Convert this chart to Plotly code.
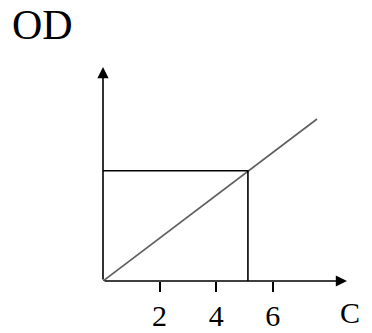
import plotly.graph_objects as go

# Data
conc = [0, 7.56]          # concentration (C) along standard line
od = [0, 0.757]           # OD values along standard line
sample_c = 5.12           # sample concentration read-off
sample_od = 0.515         # sample OD
tick_vals = [2, 4, 6]
tick_text = ["2", "4", "6"]

x_max = 8.62
y_max = 1.0

fig = go.Figure()

# standard curve
fig.add_trace(go.Scatter(x=conc, y=od, mode="lines",
                         line=dict(color="#606060", width=1.7),
                         hoverinfo="skip", showlegend=False))
# read-off lines
fig.add_trace(go.Scatter(x=[0, sample_c, sample_c], y=[sample_od, sample_od, 0],
                         mode="lines", line=dict(color="black", width=1.6),
                         hoverinfo="skip", showlegend=False))

serif = "Liberation Serif, Times New Roman, serif"

fig.update_layout(
    width=372, height=333,
    margin=dict(l=95, r=33, t=59, b=60, autoexpand=False),
    paper_bgcolor="white", plot_bgcolor="white",
    xaxis=dict(range=[0, x_max], showgrid=False, zeroline=False, showline=False,
               automargin=False,
               tickvals=tick_vals, ticktext=tick_text, ticks="outside",
               ticklen=10, tickwidth=1.6, tickcolor="black",
               ticklabelstandoff=-2,
               tickfont=dict(family=serif, size=30, color="black")),
    yaxis=dict(range=[0, y_max], showgrid=False, zeroline=False, showline=False,
               automargin=False, showticklabels=False, ticks=""),
    annotations=[
        # x axis with arrow
        dict(x=x_max, y=0, ax=0, ay=0, xref="x", yref="y", axref="x", ayref="y",
             showarrow=True, arrowhead=2, arrowsize=1.4, arrowwidth=1.6,
             arrowcolor="black", text=""),
        # y axis with arrow
        dict(x=0, y=y_max, ax=0, ay=0, xref="x", yref="y", axref="x", ayref="y",
             showarrow=True, arrowhead=2, arrowsize=1.4, arrowwidth=1.6,
             arrowcolor="black", text=""),
        dict(text="OD", xref="paper", yref="paper", x=-0.25, y=1.195,
             xanchor="center", yanchor="middle", showarrow=False,
             font=dict(family=serif, size=42, color="black")),
        dict(text="C (mg/L)", xref="paper", yref="paper", x=0.963, y=-0.15,
             xanchor="left", yanchor="middle", showarrow=False,
             font=dict(family=serif, size=30, color="black")),
    ],
)

fig.write_html("out.html")
